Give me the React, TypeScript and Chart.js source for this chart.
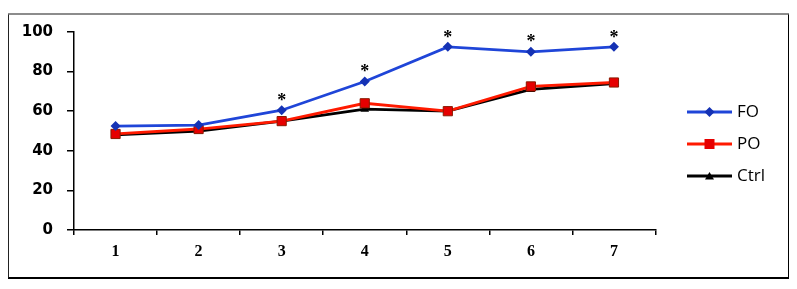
import React, { useEffect, useRef } from "react";
import { Chart, registerables } from "chart.js";

Chart.register(...registerables);

const categories = ["1", "2", "3", "4", "5", "6", "7"];
const foValues = [52.5, 53, 60.5, 75, 92.5, 90, 92.5];
const poValues = [48.5, 51, 55, 64, 60, 72.5, 74.5];
const ctrlValues = [48, 50, 55, 61, 60, 71, 74];
const significant = [false, false, true, true, true, true, true];
const yTicks = [0, 20, 40, 60, 80, 100];

const FO_LINE = "#1f45d8";
const FO_MARK = "#1532b4";
const PO_LINE = "#ff1a00";
const PO_MARK = "#e60000";
const CTRL = "#000000";

function legendImage(line: string, mark: string, style: string): HTMLCanvasElement {
  const c = document.createElement("canvas");
  c.width = 45;
  c.height = 14;
  const g = c.getContext("2d")!;
  g.strokeStyle = line;
  g.lineWidth = 2.8;
  g.beginPath();
  g.moveTo(0, 7);
  g.lineTo(45, 7);
  g.stroke();
  g.fillStyle = mark;
  g.beginPath();
  if (style === "diamond") {
    g.moveTo(22.5, 2);
    g.lineTo(27.5, 7);
    g.lineTo(22.5, 12);
    g.lineTo(17.5, 7);
    g.closePath();
  } else if (style === "square") {
    g.rect(17.5, 2, 10, 10);
  } else {
    g.moveTo(22.5, 3);
    g.lineTo(27, 10.5);
    g.lineTo(18, 10.5);
    g.closePath();
  }
  g.fill();
  return c;
}

const asteriskPlugin = {
  id: "asterisks",
  afterDatasetsDraw(chart: any) {
    const meta = chart.getDatasetMeta(0);
    const ctx = chart.ctx;
    ctx.save();
    ctx.fillStyle = "#000";
    ctx.font = "bold 18px 'Liberation Serif'";
    ctx.textAlign = "center";
    ctx.textBaseline = "middle";
    meta.data.forEach((pt: any, i: number) => {
      if (significant[i]) ctx.fillText("*", pt.x, pt.y - 9);
    });
    ctx.restore();
  },
};

export default function App() {
  const ref = useRef<HTMLCanvasElement | null>(null);
  useEffect(() => {
    if (!ref.current) return;
    const imgs = [
      legendImage(FO_LINE, FO_MARK, "diamond"),
      legendImage(PO_LINE, PO_MARK, "square"),
      legendImage(CTRL, CTRL, "triangle"),
    ];
    const chart = new Chart(ref.current, {
      type: "line",
      data: {
        labels: categories,
        datasets: [
          {
            label: "FO",
            data: foValues,
            borderColor: FO_LINE,
            backgroundColor: FO_MARK,
            borderWidth: 2.8,
            pointStyle: "rectRot",
            pointRadius: 5,
            pointBorderWidth: 0,
            pointBackgroundColor: FO_MARK,
            tension: 0,
          },
          {
            label: "PO",
            data: poValues,
            borderColor: PO_LINE,
            backgroundColor: PO_MARK,
            borderWidth: 2.8,
            pointStyle: "rect",
            pointRadius: 6.5,
            pointBorderWidth: 1,
            pointBorderColor: "#8a1a00",
            pointBackgroundColor: PO_MARK,
            tension: 0,
          },
          {
            label: "Ctrl",
            data: ctrlValues,
            borderColor: CTRL,
            backgroundColor: CTRL,
            borderWidth: 2.8,
            pointStyle: "triangle",
            pointRadius: 5,
            pointBorderWidth: 0,
            pointBackgroundColor: CTRL,
            tension: 0,
          },
        ],
      },
      options: {
        animation: false,
        responsive: false,
        layout: { padding: { top: 32, bottom: 33, left: 0, right: 22 } },
        plugins: {
          tooltip: { enabled: false },
          legend: {
            position: "right",
            labels: {
              usePointStyle: true,
              pointStyleWidth: 38,
              padding: 15,
              color: "#000",
              font: { family: "'Open Sans'", size: 17 },
              generateLabels: (ch: any) =>
                ch.data.datasets.map((ds: any, i: number) => ({
                  text: ds.label,
                  pointStyle: imgs[i],
                  fillStyle: ds.borderColor,
                  strokeStyle: ds.borderColor,
                  lineWidth: 0,
                  fontColor: "#000",
                  hidden: false,
                  datasetIndex: i,
                })),
            },
          },
        },
        scales: {
          x: {
            type: "category",
            offset: true,
            grid: {
              display: true,
              offset: true,
              drawOnChartArea: false,
              drawTicks: true,
              tickLength: 5,
              color: "#000",
              lineWidth: 1.5,
            },
            border: { display: true, color: "#000", width: 1.5 },
            ticks: {
              color: "#000",
              padding: 7,
              font: { family: "'Liberation Serif'", size: 16, weight: "bold" },
            },
            afterFit: (s: any) => {
              s.height = 26;
            },
          },
          y: {
            min: 0,
            max: 100,
            afterBuildTicks: (s: any) => {
              s.ticks = yTicks.map((v) => ({ value: v }));
            },
            grid: {
              display: true,
              drawOnChartArea: false,
              drawTicks: true,
              tickLength: 7,
              color: "#000",
              lineWidth: 1.5,
            },
            border: { display: true, color: "#000", width: 1.5 },
            ticks: {
              color: "#000",
              padding: 14,
              font: { family: "'DejaVu Sans'", size: 15, weight: "bold" },
            },
            afterFit: (s: any) => {
              s.width = 74;
            },
          },
          y2: {
            position: "right",
            display: true,
            min: 0,
            max: 100,
            grid: { display: false, drawTicks: false },
            border: { display: false },
            ticks: { display: false },
            afterFit: (s: any) => {
              s.width = 20;
            },
          },
        },
      },
      plugins: [asteriskPlugin],
    });
    return () => chart.destroy();
  }, []);

  return (
    <div style={{ position: "relative", margin: -8, width: 797, height: 289, background: "#fff" }}>
      <canvas ref={ref} width={797} height={289} style={{ position: "absolute", left: 0, top: 0 }} />
      <div
        style={{
          position: "absolute",
          left: 7,
          top: 13,
          width: 779,
          height: 262,
          borderTop: "2px solid #8c8c8c",
          borderLeft: "2px solid #222",
          borderRight: "2px solid #000",
          borderBottom: "2px solid #000",
          pointerEvents: "none",
        }}
      />
    </div>
  );
}
